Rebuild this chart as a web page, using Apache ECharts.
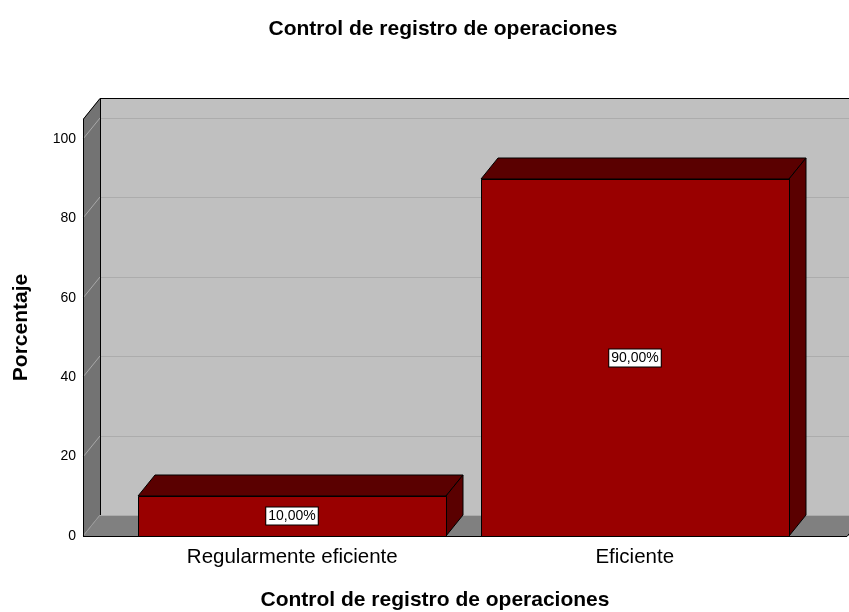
<!DOCTYPE html>
<html><head><meta charset="utf-8">
<script src="https://cdn.jsdelivr.net/npm/echarts@6/dist/echarts.min.js"></script>
<style>html,body{margin:0;padding:0;background:#fff}#c{width:849px;height:612px}</style>
</head><body><div id="c"></div>
<script>
// ---- data ----
const categories = ['Regularmente eficiente', 'Eficiente'];
const percentages = [10, 90];
const yTicks = [0, 20, 40, 60, 80, 100];
const yMax = 105;
const titleText = 'Control de registro de operaciones';
const xName = 'Control de registro de operaciones';
const yName = 'Porcentaje';

// ---- style ----
const DX = 17, DY = -21;
const FONT = '"Liberation Sans", Arial, sans-serif';

const chart = echarts.init(document.getElementById('c'), null, {renderer: 'canvas'});

function px(v) { return Math.round(v) + 0.5; }

function wallsItem(params, api) {
  const cs = params.coordSys;
  const x0 = Math.round(cs.x), x1 = Math.round(cs.x + cs.width);
  const yb = Math.round(api.coord([0, 0])[1]);
  const yt = Math.round(api.coord([0, yMax])[1]);
  const far = x1 + DX + 60;
  const ch = [];
  ch.push({type: 'polygon', shape: {points: [[x0 + DX, yt + DY], [far, yt + DY], [far, yb + DY], [x0 + DX, yb + DY]]}, style: {fill: '#c0c0c0'}});
  ch.push({type: 'polygon', shape: {points: [[x0, yt], [x0 + DX, yt + DY], [x0 + DX, yb + DY], [x0, yb]]}, style: {fill: '#737373'}});
  ch.push({type: 'polygon', shape: {points: [[x0, yb], [x0 + DX, yb + DY], [far, yb + DY], [x1, yb]]}, style: {fill: '#808080'}});
  yTicks.forEach(function (v) {
    const y = Math.round(api.coord([0, v])[1]);
    ch.push({type: 'line', shape: {x1: x0 + DX, y1: px(y + DY), x2: far, y2: px(y + DY)}, style: {stroke: '#acacac', lineWidth: 1}});
    if (v > 0) ch.push({type: 'line', shape: {x1: x0, y1: y, x2: x0 + DX, y2: y + DY}, style: {stroke: '#a8a8a8', lineWidth: 1}});
  });
  ch.push({type: 'line', shape: {x1: x0, y1: yb, x2: x0 + DX, y2: yb + DY}, style: {stroke: '#9a9a9a', lineWidth: 1}});
  ch.push({type: 'polyline', shape: {points: [[px(x0), yb], [px(x0), yt], [x0 + DX, px(yt + DY)], [far, px(yt + DY)]]}, style: {stroke: '#000', lineWidth: 1, fill: null}});
  ch.push({type: 'line', shape: {x1: px(x0 + DX), y1: yt + DY, x2: px(x0 + DX), y2: yb + DY}, style: {stroke: '#000', lineWidth: 1}});
  ch.push({type: 'polyline', shape: {points: [[x0, px(yb)], [x1, px(yb)], [x1 + DX, yb + DY]]}, style: {stroke: '#000', lineWidth: 1, fill: null}});
  return {type: 'group', children: ch};
}

function barItem(params, api) {
  const idx = api.value(0), v = api.value(1);
  const top = api.coord([idx, v]);
  const base = api.coord([idx, 0]);
  const w = api.size([1, 0])[0] * 0.9;
  const xl = Math.round(top[0] - w / 2), xr = Math.round(top[0] + w / 2);
  const yt = Math.round(top[1]), yb = Math.round(base[1]);
  const label = v.toFixed(2).replace('.', ',') + '%';
  return {type: 'group', children: [
    {type: 'polygon', shape: {points: [[xl, yt], [xl + DX, yt + DY], [xr + DX, yt + DY], [xr, yt]]}, style: {fill: '#5a0000', stroke: '#000', lineWidth: 1}},
    {type: 'polygon', shape: {points: [[xr, yt], [xr + DX, yt + DY], [xr + DX, yb + DY], [xr, yb]]}, style: {fill: '#5a0000', stroke: '#000', lineWidth: 1}},
    {type: 'rect', shape: {x: xl + 0.5, y: yt + 0.5, width: xr - xl, height: yb - yt}, style: {fill: '#990000', stroke: '#000', lineWidth: 1}},
    {type: 'text', x: Math.round(top[0]), y: Math.round((yt + yb) / 2), style: {
      text: label, font: '14px ' + FONT, fill: '#000',
      align: 'center', verticalAlign: 'middle', textAlign: 'center', textVerticalAlign: 'middle',
      backgroundColor: '#fff', borderColor: '#000', borderWidth: 1, padding: [2, 2, 1, 2]
    }}
  ]};
}

const option = {
  animation: false,
  backgroundColor: '#fff',
  textStyle: {fontFamily: FONT},
  grid: [
    {left: 83, right: 2, top: 119, bottom: 76},
    {left: 121, width: 685, top: 119, bottom: 76}
  ],
  xAxis: [
    {gridIndex: 0, type: 'value', min: 0, max: 1, show: false},
    {gridIndex: 1, type: 'category', data: categories,
      axisLine: {show: false}, axisTick: {show: false},
      axisLabel: {fontSize: 20.5, color: '#000', margin: 11, fontFamily: FONT}}
  ],
  yAxis: [
    {gridIndex: 0, type: 'value', min: 0, max: yMax, interval: 20,
      axisLine: {show: false}, axisTick: {show: false}, splitLine: {show: false},
      axisLabel: {fontSize: 14, color: '#000', margin: 7, showMaxLabel: false, fontFamily: FONT,
        formatter: function (v) { return yTicks.indexOf(v) >= 0 ? String(v) : ''; }},
      name: yName, nameLocation: 'middle', nameRotate: 90, nameGap: 51,
      nameTextStyle: {fontSize: 21, fontWeight: 'bold', color: '#000', fontFamily: FONT}},
    {gridIndex: 1, type: 'value', min: 0, max: yMax, show: false}
  ],
  graphic: [
    {type: 'text', x: 443, y: 29, style: {text: titleText, font: 'bold 21px ' + FONT, fill: '#000',
      align: 'center', verticalAlign: 'middle', textAlign: 'center', textVerticalAlign: 'middle'}},
    {type: 'text', x: 435, y: 600, style: {text: xName, font: 'bold 21px ' + FONT, fill: '#000',
      align: 'center', verticalAlign: 'middle', textAlign: 'center', textVerticalAlign: 'middle'}}
  ],
  series: [
    {type: 'custom', xAxisIndex: 0, yAxisIndex: 0, clip: false, silent: true, z: 1,
      renderItem: wallsItem, data: [[0, 0]]},
    {type: 'custom', xAxisIndex: 1, yAxisIndex: 1, clip: false, z: 2,
      renderItem: barItem, encode: {x: 0, y: 1},
      data: percentages.map(function (v, i) { return [i, v]; })}
  ]
};
chart.setOption(option);
</script>
</body></html>
